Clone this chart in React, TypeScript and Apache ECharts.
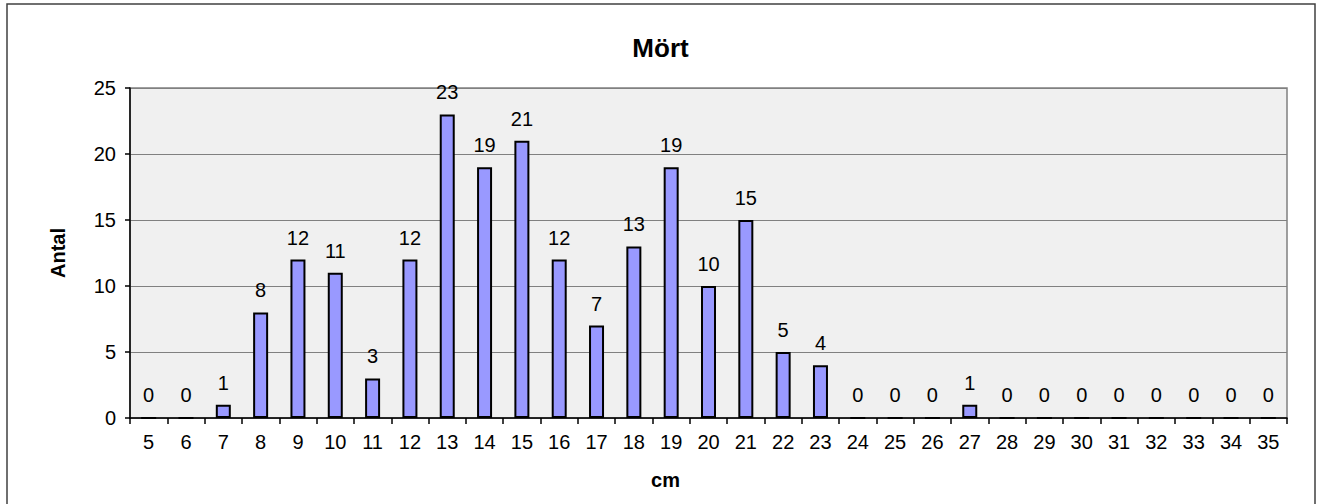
import React, { useEffect, useRef } from "react";
import * as echarts from "echarts";

const categories = ["5","6","7","8","9","10","11","12","13","14","15","16","17","18","19","20","21","22","23","24","25","26","27","28","29","30","31","32","33","34","35"];
const counts = [0,0,1,8,12,11,3,12,23,19,21,12,7,13,19,10,15,5,4,0,0,0,1,0,0,0,0,0,0,0,0];
const titleText = "Mört";
const xName = "cm";
const yName = "Antal";

const FONT = 'Arial, "Liberation Sans", sans-serif';

export default function App() {
  const ref = useRef<HTMLDivElement>(null);
  useEffect(() => {
    if (!ref.current) return;
    const chart = echarts.init(ref.current, undefined, { renderer: "svg" });
    chart.setOption({
      animation: false,
      backgroundColor: "#ffffff",
      title: {
        text: titleText,
        left: "center",
        top: 30,
        textStyle: { fontFamily: FONT, fontSize: 26, fontWeight: "bold", color: "#000" },
      },
      graphic: [
        {
          type: "rect",
          shape: { x: 7, y: 4, width: 1308, height: 502 },
          style: { fill: "none", stroke: "#404040", lineWidth: 1.5 },
          silent: true,
        },
      ],
      grid: {
        left: 130,
        right: 34,
        top: 88,
        bottom: 86,
        show: true,
        backgroundColor: "#f0f0f0",
        borderColor: "#808080",
        borderWidth: 1.5,
      },
      xAxis: {
        type: "category",
        data: categories,
        name: xName,
        nameLocation: "middle",
        nameGap: 52,
        nameTextStyle: { fontFamily: FONT, fontSize: 20, fontWeight: "bold", color: "#000", padding: [0, 86, 0, 0] },
        axisLine: { show: true, lineStyle: { color: "#000", width: 1.5 } },
        axisTick: { show: true, interval: 0, length: 6, lineStyle: { color: "#000", width: 1.5 } },
        axisLabel: { interval: 0, margin: 14, fontFamily: FONT, fontSize: 20, color: "#000" },
        splitLine: { show: false },
      },
      yAxis: {
        type: "value",
        min: 0,
        max: 25,
        interval: 5,
        name: yName,
        nameLocation: "middle",
        nameGap: 62,
        nameRotate: 90,
        nameTextStyle: { fontFamily: FONT, fontSize: 20, fontWeight: "bold", color: "#000" },
        axisLine: { show: true, lineStyle: { color: "#000", width: 1.5 } },
        axisTick: { show: true, length: 5, lineStyle: { color: "#000", width: 1.5 } },
        axisLabel: { margin: 14, fontFamily: FONT, fontSize: 20, color: "#000" },
        splitLine: { show: true, lineStyle: { color: "#808080", width: 1 } },
      },
      series: [
        {
          type: "bar",
          data: counts,
          barWidth: 15,
          itemStyle: { color: "#9999ff", borderColor: "#000", borderWidth: 2 },
          label: {
            show: true,
            position: "top",
            distance: 12,
            fontFamily: FONT,
            fontSize: 20,
            color: "#000",
          },
        },
      ],
    });
    return () => chart.dispose();
  }, []);
  return (
    <div
      ref={ref}
      style={{ position: "absolute", left: 0, top: 0, width: 1321, height: 504 }}
    />
  );
}
